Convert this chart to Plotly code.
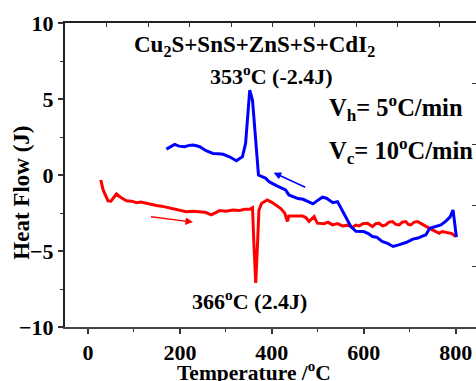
import plotly.graph_objects as go

# Heating curve (red)
heat_T = [27.8, 33, 43.5, 50, 61.8, 70, 83.6, 95, 105.3, 115, 127, 138, 148.9, 160, 170.6, 182,
          192.4, 203, 214, 228, 243, 255, 268.5, 278, 286.6, 300, 315.6, 330, 340, 352, 358, 361,
          365, 369, 372, 378, 390, 400, 408.5, 419, 428, 434, 437, 452, 466.6, 474, 481, 492, 499,
          513.6, 522, 532, 543, 553.6, 565, 575.4, 583, 590, 598, 608, 619, 626, 633, 641, 648,
          655, 662.5, 670, 677, 684, 691.5, 697, 702, 710, 717, 725, 735, 742, 749.5, 757, 764,
          771, 778, 785.6, 792, 800]
heat_Q = [-0.33, -0.98, -1.70, -1.72, -1.25, -1.45, -1.69, -1.72, -1.82, -1.78, -1.86, -1.95,
          -2.01, -2.05, -2.12, -2.22, -2.30, -2.35, -2.41, -2.38, -2.41, -2.45, -2.62, -2.45,
          -2.34, -2.38, -2.30, -2.34, -2.25, -2.25, -2.15, -4.5, -7.1, -4.5, -2.3, -1.86, -1.64,
          -1.8, -1.97, -2.19, -2.5, -3.06, -2.69, -2.69, -2.69, -2.8, -3.06, -2.73, -3.17, -3.2,
          -3.1, -3.28, -3.2, -3.35, -3.3, -3.43, -3.3, -3.35, -3.2, -3.17, -3.39, -3.2, -3.17,
          -3.35, -3.28, -3.1, -3.06, -3.25, -3.28, -3.1, -3.06, -3.25, -3.28, -3.1, -3.06, -3.2,
          -3.39, -3.5, -3.61, -3.72, -3.83, -3.72, -3.75, -3.83, -3.85, -4.05]

# Cooling curve (blue)
cool_T = [170.6, 180, 188.7, 198, 210, 220, 228.5, 236, 243, 257, 272, 283, 294, 308, 316, 323,
          330, 336, 343, 348, 352, 358, 364, 371, 387, 394, 410, 430, 437, 446, 457, 468, 480,
          489.6, 496, 504, 510, 519, 526, 533, 543, 558, 572, 583, 600, 610, 619, 628, 640, 652,
          664, 676, 685.5, 692, 707, 718, 729, 735, 743.6, 758, 768, 780, 788, 794.3, 801.7]
cool_Q = [1.70, 1.85, 2.01, 1.90, 1.86, 1.95, 1.97, 1.92, 1.86, 1.60, 1.42, 1.40, 1.36, 1.20,
          1.05, 0.94, 1.09, 1.20, 2.08, 4.0, 5.58, 4.92, 2.5, 0.0, -0.22, -0.44, -0.7, -0.98,
          -1.31, -1.42, -1.55, -1.60, -1.75, -1.90, -1.75, -1.60, -1.46, -1.53, -1.65, -1.82,
          -1.75, -2.6, -3.39, -3.7, -3.72, -3.85, -4.05, -4.09, -4.37, -4.5, -4.70, -4.6, -4.53,
          -4.44, -4.22, -4.15, -4.00, -3.94, -3.50, -3.35, -3.28, -3.0, -2.75, -2.30, -4.09]

x_ticks = [0, 200, 400, 600, 800]
y_ticks = [-10, -5, 0, 5, 10]
right_ticks = [-10, -6, -2, 2, 6, 10]

FONT = "Liberation Serif"
X_RANGE = [-50, 844.3]
Y_RANGE = [-10, 10]

def bfont(size):
    return dict(family=FONT, size=size, color="black", weight="bold")

fig = go.Figure()
fig.add_trace(go.Scatter(x=heat_T, y=heat_Q, mode="lines",
                         line=dict(color="#ff0000", width=3), showlegend=False))
fig.add_trace(go.Scatter(x=cool_T, y=cool_Q, mode="lines",
                         line=dict(color="#0000ff", width=3), showlegend=False))
fig.add_trace(go.Scatter(x=[], y=[], xaxis="x2", yaxis="y2", showlegend=False))

ann = []
def txt(x, y, s, size=23, xanchor="center"):
    ann.append(dict(x=x, y=y, xref="x", yref="y", text=s, showarrow=False,
                    xanchor=xanchor, yanchor="middle", font=bfont(size)))

txt(361.6, 8.5, "Cu<sub>2</sub>S+SnS+ZnS+S+CdI<sub>2</sub>", size=23)
txt(399.7, 6.6, "353<sup>o</sup>C (-2.4J)", size=22)
txt(521, 4.4, "V<sub>h</sub>= 5<sup>o</sup>C/min", size=24.5, xanchor="left")
txt(521, 1.6, "V<sub>c</sub>= 10<sup>o</sup>C/min", size=24.5, xanchor="left")
txt(351.8, -8.2, "366<sup>o</sup>C (2.4J)", size=22)

# axis titles
ann.append(dict(x=-0.1046, y=0.442, xref="paper", yref="paper", text="Heat Flow (J)",
                showarrow=False, textangle=-90, xanchor="center", yanchor="middle",
                font=bfont(23)))
ann.append(dict(x=0.461, y=-0.147, xref="paper", yref="paper",
                text="Temperature /<sup>o</sup>C", showarrow=False,
                xanchor="center", yanchor="middle", font=bfont(21.5)))

# arrows
ann.append(dict(x=228.5, y=-3.1, ax=134, ay=-2.73, xref="x", yref="y", axref="x", ayref="y",
                showarrow=True, arrowhead=2, arrowsize=1, arrowwidth=1.5,
                arrowcolor="#ff0000", text=""))
ann.append(dict(x=404, y=0.15, ax=476, ay=-0.85, xref="x", yref="y", axref="x", ayref="y",
                showarrow=True, arrowhead=2, arrowsize=1, arrowwidth=1.5,
                arrowcolor="#0000ff", text=""))

fig.update_layout(
    width=476, height=381,
    margin=dict(l=65, r=0, t=23, b=54),
    paper_bgcolor="white", plot_bgcolor="white",
    annotations=ann,
    xaxis=dict(range=X_RANGE, tickvals=x_ticks, ticks="outside", ticklen=5, tickwidth=1.5,
               tickcolor="#333", showline=True, linecolor="#444", linewidth=2,
               showgrid=False, zeroline=False,
               minor=dict(ticks="outside", ticklen=3, tickwidth=1.2, tickcolor="#333",
                          tickvals=[100, 300, 500, 700]),
               tickfont=bfont(22)),
    yaxis=dict(range=Y_RANGE, tickvals=y_ticks, ticks="outside", ticklen=5, tickwidth=1.5,
               tickcolor="#333", showline=True, linecolor="#222", linewidth=2,
               showgrid=False, zeroline=False,
               minor=dict(ticks="outside", ticklen=3, tickwidth=1.2, tickcolor="#333",
                          tickvals=[-7.5, -2.5, 2.5, 7.5]),
               tickfont=bfont(22)),
    xaxis2=dict(overlaying="x", side="top", range=X_RANGE, tick0=40, dtick=90.6,
                ticks="inside", ticklen=4, tickcolor="#333", showticklabels=False,
                showline=True, linecolor="#222", linewidth=1.5, showgrid=False,
                zeroline=False),
    yaxis2=dict(overlaying="y", side="right", range=Y_RANGE, tickvals=right_ticks,
                ticks="inside", ticklen=4, tickcolor="#333", showticklabels=False,
                showline=False, showgrid=False, zeroline=False),
)
fig.write_html("out.html", config={"displayModeBar": False},
               post_script="document.body.style.margin='0';")
